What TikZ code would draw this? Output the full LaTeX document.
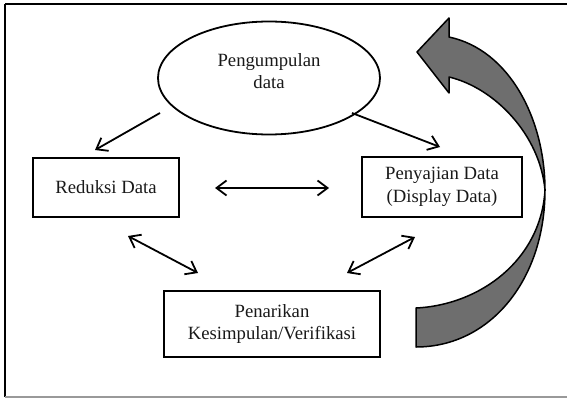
\documentclass[tikz,border=0pt]{standalone}
\usepackage{fontspec}
\setmainfont{Liberation Serif}
\usetikzlibrary{arrows.meta,shapes.geometric}
\definecolor{bandgray}{RGB}{110,110,110}
\begin{document}
\begin{tikzpicture}[x=1pt,y=-1pt,
  lbl/.style={font=\fontsize{18.7}{22.5}\selectfont, align=center, text=black!90},
  boxnode/.style={draw, line width=1.8pt, minimum height=59pt, inner sep=0pt, lbl},
  tip/.style={Straight Barb[length=10pt,width=15pt,line width=1.8pt]},
  conn/.style={line width=1.8pt, -{Straight Barb[length=10pt,width=15pt,line width=1.8pt]}},
  dconn/.style={line width=1.8pt, {Straight Barb[length=10pt,width=15pt,line width=1.8pt]}-{Straight Barb[length=10pt,width=15pt,line width=1.8pt]}},
  band/.style={fill=bandgray, draw=black, line width=1.5pt, line join=round}]
\useasboundingbox (0,0) rectangle (567,401);
\draw[line width=1.8pt] (5,4) -- (567,4);
\draw[line width=1.8pt] (5,4) -- (5,397);
\draw[line width=1.2pt, black!40] (5,397) -- (567,397);

% big curved ribbon arrow
\draw[band] (417,52) -- (449,18) -- (449,37)
  .. controls (510,50) and (545,120) .. (545,190)
  .. controls (545,280) and (490,347) .. (416,347)
  -- (416,308)
  .. controls (480,305) and (541,260) .. (545,190)
  .. controls (540,135) and (495,88) .. (449,77)
  -- (449,93) -- cycle;

\node[ellipse, draw, line width=1.8pt, minimum width=222pt, minimum height=113pt, inner sep=0pt] (ell) at (269,78) {};
\node[lbl] (elltxt) at (269,71) {Pengumpulan\\data};

\node[boxnode, minimum width=146pt] (red) at (106,187.5) {Reduksi Data};
\node[boxnode, minimum width=160pt, minimum height=60pt] (pen) at (442,187) {Penyajian Data\\(Display Data)};
\node[boxnode, minimum width=216pt, minimum height=66pt] (tar) at (272,324) {Penarikan\\Kesimpulan/Verifikasi};

\coordinate (a1s) at (160,113); \coordinate (a1e) at (95,150);
\coordinate (a2s) at (352,113); \coordinate (a2e) at (440,147);
\coordinate (a3s) at (215,188); \coordinate (a3e) at (329,188);
\coordinate (a4s) at (128,236); \coordinate (a4e) at (198,273);
\coordinate (a5s) at (415,237); \coordinate (a5e) at (347,273);

\draw[conn] (a1s) -- (a1e);
\draw[conn] (a2s) -- (a2e);
\draw[dconn] (a3s) -- (a3e);
\draw[dconn] (a4s) -- (a4e);
\draw[dconn] (a5s) -- (a5e);
\end{tikzpicture}
\end{document}
